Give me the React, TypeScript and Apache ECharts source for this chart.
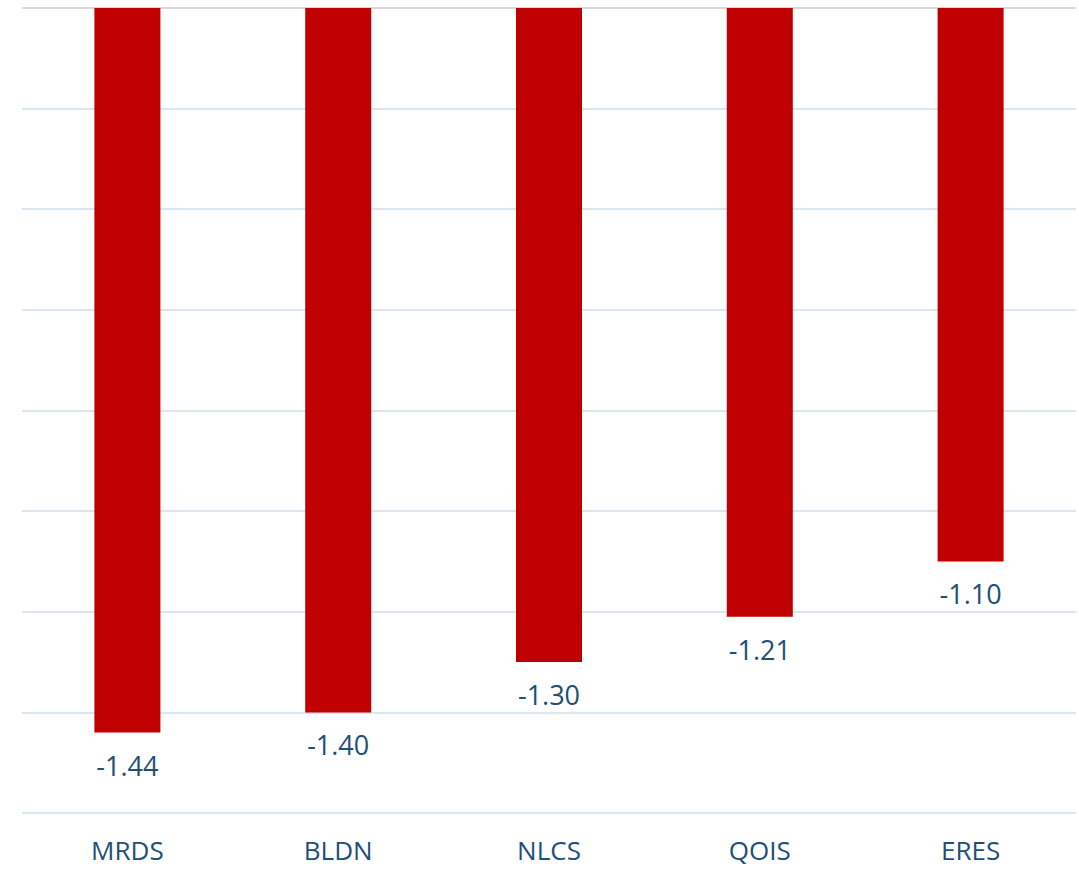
import React, { useEffect, useRef } from "react";
import * as echarts from "echarts";

const categories = ["MRDS", "BLDN", "NLCS", "QOIS", "ERES"];
const values = [-1.44, -1.4, -1.3, -1.21, -1.1];

export default function App() {
  const ref = useRef<HTMLDivElement>(null);
  useEffect(() => {
    if (!ref.current) return;
    const chart = echarts.init(ref.current, undefined, { renderer: "svg" });
    const grid = "#dbe6f3";
    chart.setOption({
      animation: false,
      grid: { left: 22, right: 3, top: 8, bottom: 57 },
      xAxis: {
        type: "category",
        data: categories,
        position: "bottom",
        axisLine: { show: false, onZero: false },
        axisTick: { show: false },
        axisLabel: {
          margin: 24,
          color: "#1F4E79",
          fontSize: 26,
          lineHeight: 26,
          fontFamily: "Open Sans",
        },
      },
      yAxis: {
        type: "value",
        min: -1.6,
        max: 0,
        interval: 0.2,
        axisLabel: { show: false },
        axisLine: { show: false },
        axisTick: { show: false },
        splitLine: {
          show: true,
          lineStyle: {
            width: 2,
            color: [grid, grid, grid, grid, grid, grid, grid, grid, "#d9d9d9"],
          },
        },
      },
      series: [
        {
          type: "bar",
          data: values,
          barWidth: 66,
          itemStyle: { color: "#C00000" },
          label: {
            show: true,
            position: "bottom",
            distance: 19,
            color: "#1F4E79",
            fontSize: 27,
            lineHeight: 27,
            fontFamily: "Open Sans",
            formatter: (p: any) => p.value.toFixed(2),
          },
        },
      ],
    });
    return () => chart.dispose();
  }, []);
  return (
    <div
      ref={ref}
      style={{ position: "absolute", left: 0, top: 0, width: 1079, height: 870 }}
    />
  );
}
